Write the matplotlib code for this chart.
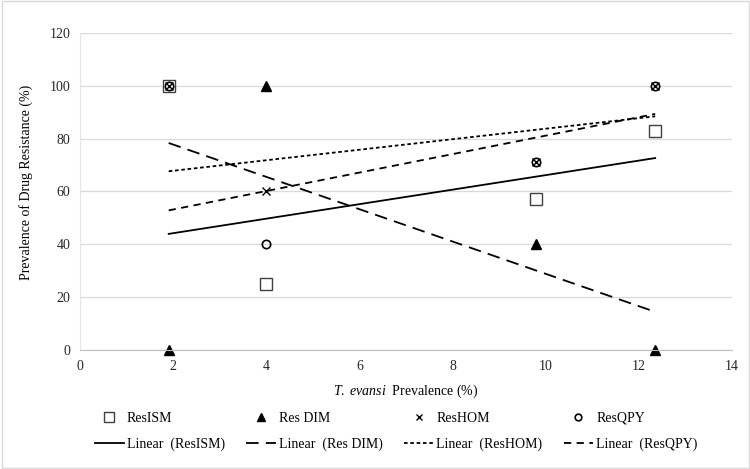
import numpy as np
import matplotlib
matplotlib.use("Agg")
import matplotlib.pyplot as plt

plt.rcParams['font.family'] = ['Liberation Serif', 'DejaVu Serif']
plt.rcParams['mathtext.fontset'] = 'custom'
plt.rcParams['mathtext.it'] = 'Liberation Serif:italic'
plt.rcParams['mathtext.rm'] = 'Liberation Serif'

# data
prev = [1.9, 4.0, 9.8, 12.35]
res_ism = [100, 25, 57, 83]
res_dim = [0, 100, 40, 0]
res_hom = [100, 60, 71, 100]
res_qpy = [100, 40, 71, 100]

# trendline values at first / last prevalence
trend_x = [1.9, 12.35]
trend_ism = [43.9, 72.6]
trend_dim = [78.3, 14.4]
trend_hom = [67.6, 88.4]
trend_qpy = [52.8, 89.3]

fig = plt.figure(figsize=(7.5, 4.69), dpi=100)
ax = fig.add_axes([0.107, 0.254, 0.869, 0.676])

ax.set_xlim(0, 14)
ax.set_ylim(0, 120)
ax.set_xticks(np.arange(0, 15, 2))
ax.set_yticks(np.arange(0, 121, 20))
ax.yaxis.grid(True, color='#d9d9d9', lw=0.9)
ax.set_axisbelow(True)
for s in ['top', 'right']:
    ax.spines[s].set_visible(False)
ax.spines['bottom'].set_color('#bfbfbf')
ax.spines['left'].set_color('#e6e6e6')
ax.tick_params(length=0, labelsize=10, colors='#262626', pad=7)

m1, = ax.plot(prev, res_ism, ls='none', marker='s', ms=8.5, mfc='white', mec='#404040', mew=1.0, clip_on=False)
m2, = ax.plot(prev, res_dim, ls='none', marker='^', ms=6.5, mfc='black', mec='black', clip_on=False)
m3, = ax.plot(prev, res_hom, ls='none', marker='x', ms=6, mec='black', mew=1.0, clip_on=False)
m4, = ax.plot(prev, res_qpy, ls='none', marker='o', ms=6, mfc='none', mec='black', mew=1.2, clip_on=False)

l1, = ax.plot(trend_x, trend_ism, color='black', lw=1.3)
l2, = ax.plot(trend_x, trend_dim, color='black', lw=1.3, dashes=(7, 4))
l3, = ax.plot(trend_x, trend_hom, color='black', lw=1.3, dashes=(2, 1.5))
l4, = ax.plot(trend_x, trend_qpy, color='black', lw=1.3, dashes=(4, 3))

ax.set_ylabel('Prevalence of Drug Resistance (%)', fontsize=10)
ax.yaxis.set_label_coords(-0.073, 0.527)
ax.set_xlabel(r'$\it{T.\ evansi}$  Prevalence (%)', fontsize=10, labelpad=7)

handles = [m1, l1, m2, l2, m3, l3, m4, l4]
labels = ['ResISM', 'Linear  (ResISM)', 'Res DIM', 'Linear  (Res DIM)',
          'ResHOM', 'Linear  (ResHOM)', 'ResQPY', 'Linear  (ResQPY)']
fig.legend(handles, labels, ncol=4, loc='center', bbox_to_anchor=(0.528, 0.080),
           frameon=False, fontsize=10, handlelength=2.1, handletextpad=0.22,
           columnspacing=1.55, labelspacing=0.95, markerscale=0.8)

fig.patches.append(plt.Rectangle((0.002, 0.002), 0.996, 0.996, transform=fig.transFigure,
                                 fill=False, ec='#d9d9d9', lw=1.0))

fig.savefig('out.png', dpi=100)
